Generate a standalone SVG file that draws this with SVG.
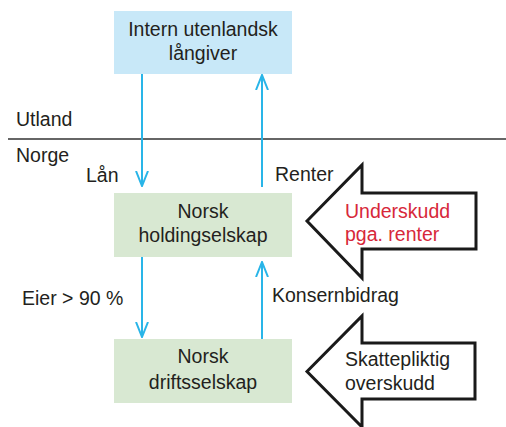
<svg xmlns="http://www.w3.org/2000/svg" width="506" height="427" viewBox="0 0 506 427">
<defs>
<style>
text{font-family:"Liberation Sans","DejaVu Sans",sans-serif;font-size:19.5px;fill:#231f20}
.c{text-anchor:middle}
.red{fill:#d7283a}
.blue{fill:#c8e8f8}
.green{fill:#d8e8d2}
.conn{stroke:#29b5e8;stroke-width:2;fill:none}
.big{fill:#fff;stroke:#1a1a1a;stroke-width:3;stroke-linejoin:miter}
</style>
<marker id="ah" viewBox="0 0 16 14" refX="15" refY="7" markerWidth="16" markerHeight="14" markerUnits="userSpaceOnUse" orient="auto">
<path d="M0,1 L15,7 L0,13" fill="none" stroke="#29b5e8" stroke-width="2"/>
</marker>
</defs>
<rect width="506" height="427" fill="#fff"/>
<line x1="8" y1="139" x2="506" y2="139" stroke="#333" stroke-width="1.5"/>
<text x="16" y="126">Utland</text>
<text x="16" y="162">Norge</text>
<g id="n1">
<rect class="blue" x="114" y="11" width="178" height="63"/>
<text class="c" x="203" y="36">Intern utenlandsk</text>
<text class="c" x="203" y="60">långiver</text>
</g>
<g id="n2">
<rect class="green" x="114" y="193" width="178" height="64"/>
<text class="c" x="203" y="218">Norsk</text>
<text class="c" x="203" y="242">holdingselskap</text>
</g>
<g id="n3">
<rect class="green" x="114" y="339" width="178" height="64"/>
<text class="c" x="203" y="363">Norsk</text>
<text class="c" x="203" y="389">driftsselskap</text>
</g>
<g id="connectors">
<line class="conn" x1="142" y1="74" x2="142" y2="186" marker-end="url(#ah)"/>
<line class="conn" x1="262" y1="187" x2="262" y2="75" marker-end="url(#ah)"/>
<line class="conn" x1="142" y1="257" x2="142" y2="337" marker-end="url(#ah)"/>
<line class="conn" x1="262" y1="339" x2="262" y2="262" marker-end="url(#ah)"/>
<text x="86" y="182">Lån</text>
<text x="275" y="181">Renter</text>
<text x="22" y="305">Eier &gt; 90 %</text>
<text x="272" y="302">Konsernbidrag</text>
</g>
<g id="b1">
<path class="big" d="M307,221 L362,165 L362,193 L476,193 L476,249 L362,249 L362,278 Z"/>
<text class="red" x="345" y="218">Underskudd</text>
<text class="red" x="345" y="241">pga. renter</text>
</g>
<g id="b2">
<path class="big" d="M307,371.5 L362,316 L362,343 L475,343 L475,399 L362,399 L362,427 Z"/>
<text x="345" y="366">Skattepliktig</text>
<text x="345" y="390">overskudd</text>
</g>
</svg>
